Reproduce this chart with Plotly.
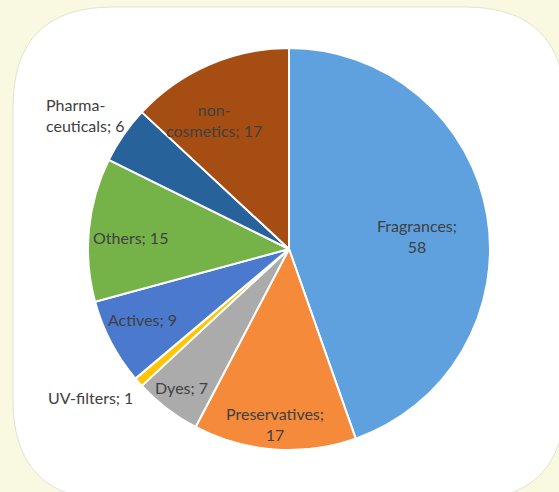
import math
import plotly.graph_objects as go

categories = ["Fragrances", "Preservatives", "Dyes", "UV-filters", "Actives",
              "Others", "Pharmaceuticals", "non-cosmetics"]
values = [58, 17, 7, 1, 9, 15, 6, 17]
display_labels = ["Fragrances;<br>58", "Preservatives;<br>17", "Dyes; 7", "UV-filters; 1",
                  "Actives; 9", "Others; 15", "Pharma-<br>ceuticals; 6", "non-<br>cosmetics; 17"]
colors = ["#5FA0DE", "#F58A3A", "#ABABAB", "#FFC505", "#4A79CE",
          "#75B348", "#28629A", "#A54D12"]
# label placement (styling): distance from centre as fraction of radius, angular nudge in degrees
label_radius = [0.64, 0.873, 0.87, 1.235, 0.81, 0.793, 1.214, 0.74]
label_nudge = [3.9, 0.4, 0.4, 4.8, 1.9, -1.5, -1.3, -6.7]
label_align = ["center", "center", "center", "center", "center", "center", "left", "center"]

W, H = 559, 492
CX, CY, R = 289, 249, 201  # pixel geometry of the pie

fig = go.Figure(go.Pie(
    labels=categories,
    values=values,
    textinfo="none",
    sort=False,
    direction="clockwise",
    rotation=0,
    marker=dict(colors=colors, line=dict(color="white", width=2)),
    showlegend=False,
    hoverinfo="label+value",
    domain=dict(x=[(CX - R) / W, (CX + R) / W], y=[1 - (CY + R) / H, 1 - (CY - R) / H]),
))

total = sum(values)
annotations = []
cum = 0
for lab, v, rf, nd, al in zip(display_labels, values, label_radius, label_nudge, label_align):
    mid = (cum + v / 2) / total * 2 * math.pi + math.radians(nd)
    cum += v
    px = CX + rf * R * math.sin(mid)
    py = CY - rf * R * math.cos(mid)
    annotations.append(dict(
        x=px / W, y=1 - py / H, xref="paper", yref="paper",
        text=lab, showarrow=False, xanchor="center", yanchor="middle", align=al,
        font=dict(family="Lato", size=16, color="#404040"),
    ))

# rounded white panel
x0, x1, y0, y1 = 13 / W, 565 / W, 1 - 500 / H, 1 - 7 / H
rx, ry = 100 / W, 100 / H
path = (f"M {x0+rx},{y1} L {x1-rx},{y1} Q {x1},{y1} {x1},{y1-ry} "
        f"L {x1},{y0+ry} Q {x1},{y0} {x1-rx},{y0} L {x0+rx},{y0} "
        f"Q {x0},{y0} {x0},{y0+ry} L {x0},{y1-ry} Q {x0},{y1} {x0+rx},{y1} Z")

fig.update_layout(
    width=W, height=H,
    margin=dict(l=0, r=0, t=0, b=0),
    paper_bgcolor="#F9F8E1",
    plot_bgcolor="#F9F8E1",
    annotations=annotations,
    shapes=[dict(type="path", path=path, xref="paper", yref="paper",
                 fillcolor="white", line=dict(color="#E4E2D0", width=1), layer="below")],
)

fig.write_html("out.html", config={"displayModeBar": False},
               post_script="document.body.style.margin='0';document.body.style.overflow='hidden';")
